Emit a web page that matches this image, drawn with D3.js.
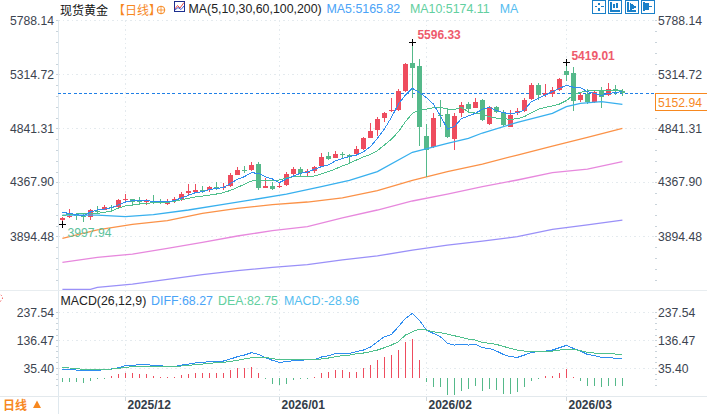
<!DOCTYPE html>
<html><head><meta charset="utf-8">
<script src="https://cdn.jsdelivr.net/npm/d3@7/dist/d3.min.js"></script>
<style>html,body{margin:0;padding:0;background:#fff;overflow:hidden}svg{display:block}
text{font-family:"Liberation Sans",Arial,sans-serif}</style></head><body>
<svg id="c" width="707" height="414"></svg>
<script>
const opens=[4037,4060,4084,4075,4060,4119,4125,4151,4148,4212,4218,4201,4192,4198,4195,4183,4201,4218,4277,4285,4297,4297,4323,4315,4335,4434,4475,4475,4528,4318,4335,4327,4344,4441,4485,4447,4464,4511,4598,4581,4616,4604,4616,4657,4756,4826,4932,4993,5002,5168,5414,5387,4774,4674,4955,4967,4750,4972,5051,5019,5089,4879,5025,4972,4850,4972,4996,5095,5218,5130,5142,5177,5344,5323,5089,5142,5072,5177,5136,5183,5165];
const closes=[4055,4069,4075,4069,4125,4113,4148,4145,4212,4221,4195,4195,4212,4192,4189,4189,4218,4265,4288,4297,4285,4326,4315,4323,4432,4475,4469,4519,4315,4335,4306,4335,4438,4485,4447,4467,4502,4590,4572,4616,4607,4587,4657,4756,4818,4923,4975,4999,5168,5405,5370,4856,4651,4932,4949,4762,4949,5043,5010,5069,4914,5025,4984,4873,4958,4993,5089,5221,5133,5148,5177,5270,5309,5078,5133,5072,5157,5119,5183,5171,5152.94];
const highs=[4060,4131,4101,4095,4131,4160,4166,4169,4221,4265,4224,4236,4224,4253,4218,4218,4236,4283,4353,4353,4335,4338,4367,4358,4452,4499,4510,4545,4543,4403,4373,4373,4461,4499,4505,4482,4511,4622,4634,4639,4634,4616,4686,4768,4891,4937,4987,5110,5186,5411,5596.33,5446,4879,4978,5089,5016,4973,5075,5075,5104,5101,5037,5037,5002,5002,5016,5104,5235,5241,5230,5200,5279,5419.01,5382,5154,5183,5177,5200,5235,5221,5183];
const lows=[3997.94,4052,4037,4022,4037,4090,4122,4125,4142,4201,4160,4177,4166,4177,4177,4166,4183,4207,4259,4271,4271,4283,4300,4300,4329,4429,4446,4469,4300,4315,4300,4315,4338,4423,4411,4411,4447,4505,4563,4578,4575,4534,4610,4651,4753,4774,4896,4984,4996,5162,5107,4686,4411,4666,4850,4753,4651,4943,4987,5016,4908,4870,4978,4861,4850,4958,4987,5089,5089,5119,5119,5171,5259,4996,5075,5054,5060,5016,5127,5133,5124];
const ma5=[4104,4095,4084,4075,4107,4125,4133,4145,4169,4195,4207,4207,4207,4201,4198,4195,4209,4230,4253,4277,4285,4303,4315,4320,4358,4394,4417,4452,4446,4417,4397,4365,4397,4423,4447,4458,4482,4505,4520,4555,4578,4593,4607,4636,4680,4753,4835,4937,5054,5133,5192,5154,5110,5054,4952,4835,4856,4925,4949,4973,5008,5025,4996,4979,4967,4979,5002,5075,5104,5133,5163,5192,5218,5201,5198,5163,5148,5128,5148,5154,5165.82];
const ma10=[4078,4084,4090,4090,4093,4095,4104,4116,4142,4160,4169,4177,4183,4189,4192,4192,4201,4215,4227,4239,4247,4256,4265,4277,4297,4323,4350,4379,4385,4388,4382,4388,4406,4417,4423,4423,4423,4441,4461,4485,4511,4534,4563,4590,4613,4645,4695,4745,4812,4899,4972,5002,5010,5022,5025,5010,5007,5025,4984,4975,4964,4943,4931,4926,4920,4926,4943,4978,5008,5025,5037,5054,5084,5133,5157,5168,5174,5177,5177,5177,5174.11];
const ma30Bars=[0,5,9,13,18,23,27,32,37,41,45,50,55,58,60,65,70,72,74,77,80];
const ma30=[4081,4081,4067,4084,4125,4175,4213,4265,4330,4385,4461,4631,4709,4754,4800,4894,4972,5031,5060,5075,5051];
const ma60Bars=[0,5,10,15,20,25,30,35,40,45,50,55,60,65,70,75,80];
const ma60=[3877,3950,3999,4032,4096,4140,4172,4195,4232,4295,4385,4461,4528,4607,4686,4762,4841];
const ma100Bars=ma60Bars;
const ma100=[3666,3710,3739,3789,3842,3897,3944,3979,4055,4125,4204,4265,4330,4388,4452,4484,4549];
const ma200Bars=[0,4,5,10,15,20,25,30,35,40,45,50,55,60,65,70,75,80];
const ma200=[3430,3430,3447,3476,3517,3558,3593,3622,3646,3687,3722,3774,3818,3853,3891,3956,3994,4037];
const macdHist=[-14,-14,-17,-19,-12,-6,-1,5,12,19,18,14,12,8,2,1,2,10,13,16,16,16,16,16,27,34,36,40,16,-6,-22,-27,-22,-8,-6,-5,4,17,22,27,27,22,22,34,48,63,74,81,99,130,139,66,-14,-33,-34,-63,-63,-48,-42,-31,-48,-42,-45,-58,-58,-53,-34,-10,-1,5,5,19,30,1,-12,-30,-30,-33,-30,-30,-28.96];
const diff=[31.7,30.5,28.1,24.5,26.9,26.9,29.3,31.7,36.6,43.8,45,47.4,47.4,45,43.8,40.2,40.2,46.2,49.8,53.5,55.9,58.3,58.3,60.7,68,76.4,82.4,90.9,84.8,72.8,63.1,55.9,58.3,61.9,63.1,65.5,65.5,75.2,80,87.3,88.5,88.5,94.5,100.5,111.4,130.7,148.8,157.3,185,215.2,233.3,209.2,173,160.9,148.8,124.7,118.6,121,118.6,121,109,106.6,96.9,84.8,76.4,74,82.4,92.1,94.5,96.9,100.5,109,117.4,106.6,96.9,84.8,80,74,74,70.4,68.27];
const dea=[36.6,35.4,33,30.5,29.3,29.3,30.5,31.7,34.1,37.8,40.2,42.6,42.6,42.6,41.4,41.4,41.4,42.6,45,47.4,49.8,52.3,54.7,55.9,59.5,63.1,68,72.8,75.2,74,69.2,65.5,65.5,65.5,65.5,65.5,65.5,68,71.6,76.4,80,82.4,87.3,89.7,94.5,100.5,109,118.6,130.7,154.9,166.9,176.6,173,166.9,163.3,158.5,152.4,146.4,140.4,136.7,128.3,124.7,121,113.8,106.6,100.5,96.9,95.7,95.7,95.7,96.9,100.5,104.2,104.2,98.1,92.1,89.7,88.5,88.5,86.1,82.75];
const priceTicks=[5788.14,5314.72,4841.31,4367.90,3894.48];
const macdTicks=[237.54,136.47,35.40];
const monthLabels=["2025/12","2026/01","2026/02","2026/03"];
const monthBars=[9,31,52,72];
const lastPrice=5152.94;
const maxBar=50,minBar=0,peakBar=72;

const C={red:"#ee4c5e",green:"#55b98a",ma5:"#2f8df0",ma10:"#4fc08d",ma30:"#38b0ee",ma60:"#fb9248",ma100:"#e788dd",ma200:"#9a90f8",grid:"#e4eaee",axis:"#dfe8ee",txt:"#3c4450",org:"#f7881f",blue:"#1a80c8"};
const svg=d3.select("#c");
const x=d3.scaleLinear().domain([0,80]).range([62.4,622.4]);
const y=d3.scaleLinear().domain([5788.14,3894.48]).range([20.3,236.3]);
const ym=d3.scaleLinear().domain([237.54,35.40]).range([312.3,368]);
const fx=i=>Math.floor(x(i));

// grid
const g=svg.append("g").attr("shape-rendering","crispEdges");
function hgrid(v,s){g.append("line").attr("x1",58).attr("x2",655).attr("y1",Math.round(s(v))+.5).attr("y2",Math.round(s(v))+.5).attr("stroke",C.grid).attr("stroke-dasharray","1.5,3");}
priceTicks.forEach(v=>hgrid(v,y)); macdTicks.forEach(v=>hgrid(v,ym));
monthBars.forEach(b=>{g.append("line").attr("x1",fx(b)+.5).attr("x2",fx(b)+.5).attr("y1",20).attr("y2",396).attr("stroke",C.grid).attr("stroke-dasharray","1.5,3");
 g.append("line").attr("x1",fx(b)+.5).attr("x2",fx(b)+.5).attr("y1",396).attr("y2",401).attr("stroke","#cfd8de");});
// minor ticks
const stepP=priceTicks[0]-priceTicks[1], stepM=macdTicks[0]-macdTicks[1];
[[y,priceTicks[0],stepP,25],[ym,macdTicks[0],stepM,14]].forEach(([s,t0,st,n])=>{
 for(let k=0;k<n;k++){const yy=s(t0-k*st/5);if(yy>292||s===y){[56,655].forEach(px=>{if(yy<289||s===ym)g.append("rect").attr("x",px).attr("y",Math.round(yy)).attr("width",1.5).attr("height",1).attr("fill","#c9d3da");});}}
});
// frame lines
g.append("line").attr("x1",58.5).attr("x2",58.5).attr("y1",20).attr("y2",414).attr("stroke",C.axis);
g.append("line").attr("x1",0).attr("x2",707).attr("y1",290.5).attr("y2",290.5).attr("stroke","#e8edf0");
g.append("line").attr("x1",0).attr("x2",707).attr("y1",396.5).attr("y2",396.5).attr("stroke","#e3e9ed");

// last-price dashed line
svg.append("line").attr("x1",58).attr("x2",655).attr("y1",93.7).attr("y2",93.7).attr("stroke","#1f7fe6").attr("stroke-width",1).attr("stroke-dasharray","3,2.2").attr("shape-rendering","crispEdges");

// long MAs first
function seriesLine(bars,vals,col,w){
 const l=d3.line().x((d,i)=>x(bars?bars[i]:i)).y(d=>y(d));
 svg.append("path").attr("d",l(vals)).attr("fill","none").attr("stroke",col).attr("stroke-width",w).attr("shape-rendering",w>1?"auto":"crispEdges");
}
seriesLine(ma200Bars,ma200,C.ma200,1.3);
seriesLine(ma100Bars,ma100,C.ma100,1.3);
seriesLine(ma60Bars,ma60,C.ma60,1.3);

// candles
const cg=svg.append("g").attr("shape-rendering","crispEdges");
opens.forEach((o,i)=>{
 const c=closes[i],col=c>=o?C.red:C.green,t=y(Math.max(o,c)),b=y(Math.min(o,c));
 cg.append("rect").attr("x",fx(i)).attr("width",1).attr("y",y(highs[i])).attr("height",y(lows[i])-y(highs[i])).attr("fill",col);
 cg.append("rect").attr("x",fx(i)-2).attr("width",5).attr("y",t).attr("height",Math.max(1,b-t)).attr("fill",col);
});
seriesLine(ma30Bars,ma30,C.ma30,1.3);
seriesLine(null,ma10,C.ma10,1);
seriesLine(null,ma5,C.ma5,1);

// extreme markers
function cross(b,v){const X=fx(b)+.5,Y=Math.round(y(v))+.5;
 svg.append("path").attr("d",`M${X-3.5},${Y}H${X+3.5}M${X},${Y-3.5}V${Y+3.5}`).attr("stroke","#000").attr("fill","none").attr("shape-rendering","crispEdges");}
cross(maxBar,highs[maxBar]);cross(peakBar,highs[peakBar]);cross(minBar,lows[minBar]);
function t(xp,yp,s,col,o={}){return svg.append("text").attr("x",xp).attr("y",yp).attr("fill",col).attr("font-size",o.size||12.2).attr("font-weight",o.w||"normal").attr("text-anchor",o.a||"start").attr("dominant-baseline","central").style("font-family",o.f||null).text(s);}
t(x(maxBar)+5,35,d3.format(".2f")(highs[maxBar]),"#ee5b6c",{w:"bold",size:12});
t(x(peakBar)+5,56,d3.format(".2f")(highs[peakBar]),"#ee5b6c",{w:"bold",size:12});
t(x(minBar)+5,233,d3.format(".2f")(lows[minBar]),"#5cc19b",{size:12.2});

// axis labels
priceTicks.forEach(v=>{t(54,y(v)+.2,d3.format(".2f")(v),C.txt,{a:"end"});t(658,y(v)+.2,d3.format(".2f")(v),C.txt);});
macdTicks.forEach(v=>{t(54,ym(v)+.5,d3.format(".2f")(v),C.txt,{a:"end"});t(658,ym(v)+.5,d3.format(".2f")(v),C.txt);});
monthBars.forEach((b,i)=>t(fx(b)+2.5,404.5,monthLabels[i],"#333c48",{w:"bold",size:12}));

// price tag
svg.append("rect").attr("x",655.5).attr("y",93.5).attr("width",60).attr("height",17).attr("fill","#fff").attr("stroke",C.org).attr("shape-rendering","crispEdges");
t(658,102.5,d3.format(".2f")(lastPrice),C.org);

// MACD panel
const mg=svg.append("g").attr("shape-rendering","crispEdges");
macdHist.forEach((v,i)=>{const a=ym(0),b=ym(v);mg.append("rect").attr("x",fx(i)).attr("width",1).attr("y",Math.min(a,b)).attr("height",Math.max(1,Math.abs(a-b))).attr("fill",v>=0?C.red:C.green);});
const lm=d3.line().x((d,i)=>x(i)).y(d=>ym(d));
svg.append("path").attr("d",lm(diff)).attr("fill","none").attr("stroke",C.ma5).attr("shape-rendering","crispEdges");
svg.append("path").attr("d",lm(dea)).attr("fill","none").attr("stroke",C.ma10).attr("stroke-width",1).attr("shape-rendering","crispEdges");

// headers
const cjk='"Noto Sans CJK SC",sans-serif';
t(60,9,"现货黄金","#111",{size:12,f:cjk});
t(113,9,"【日线】",C.org,{size:12,f:cjk});
svg.append("circle").attr("cx",161).attr("cy",10).attr("r",3.8).attr("fill","none").attr("stroke",C.org);
svg.append("path").attr("d","M157,10H165M161,6V14").attr("stroke",C.org).attr("stroke-width",.8);
const ig=svg.append("g");
ig.append("rect").attr("x",174.5).attr("y",1.5).attr("width",10).attr("height",10).attr("fill","#fff").attr("stroke","#1d2f8f");
ig.append("path").attr("d","M175,9L177.5,5.5L180,8L184,2.5").attr("fill","none").attr("stroke","#e23b3b").attr("stroke-width",.9);
ig.append("path").attr("d","M175,10L178,7.5L181,9.5L184,6").attr("fill","none").attr("stroke","#2b4bd0").attr("stroke-width",.9);
t(188.5,9,"MA(5,10,30,60,100,200)","#222",{size:12.35});
t(326.5,9,"MA5:5165.82","#4aa3f7",{size:12.4});
t(410,9,"MA10:5174.11","#62cfa0",{size:12.4});
t(499.7,9,"MA","#55bdf0",{size:12.4});
t(60.5,300.5,"MACD(26,12,9)","#222",{size:12.35});
t(151,300.5,"DIFF:68.27","#4aa3f7",{size:12.4});
t(218,300.5,"DEA:82.75","#62cfa0",{size:12.4});
t(284,300.5,"MACD:-28.96","#55bdf0",{size:12.4});
t(3,404.5,"日线",C.org,{size:12,w:"bold",f:cjk});
svg.append("path").attr("d","M33,408L37,400.5L41,408Z").attr("fill",C.org);
svg.append("circle").attr("cx",-1).attr("cy",298).attr("r",3.5).attr("fill","none").attr("stroke","#e33").attr("stroke-dasharray","1,2");

// toolbar icons
const tb=svg.append("g").attr("shape-rendering","crispEdges").attr("stroke",C.blue).attr("fill","none");
[592.5,608.5,625.5,641.5].forEach(xx=>tb.append("rect").attr("x",xx).attr("y",.5).attr("width",13).attr("height",12.5).attr("stroke-width",1));
tb.append("path").attr("d","M599,3V5M599,8V11M595,6.5H597M601,6.5H604").attr("stroke-width",1.4);
tb.append("path").attr("d","M611,2V11H620M614,4V8M617,3V8").attr("stroke-width",1.2);
tb.append("path").attr("d","M628,2V11H636").attr("stroke-width",1.2);
tb.append("path").attr("d","M630.5,3.5L635.5,7L630.5,10Z").attr("fill",C.blue).attr("stroke-width",1);
tb.append("path").attr("d","M644,2V11M646,4H648V9H646ZM648,6.5H652").attr("stroke-width",1.2);
</script></body></html>
